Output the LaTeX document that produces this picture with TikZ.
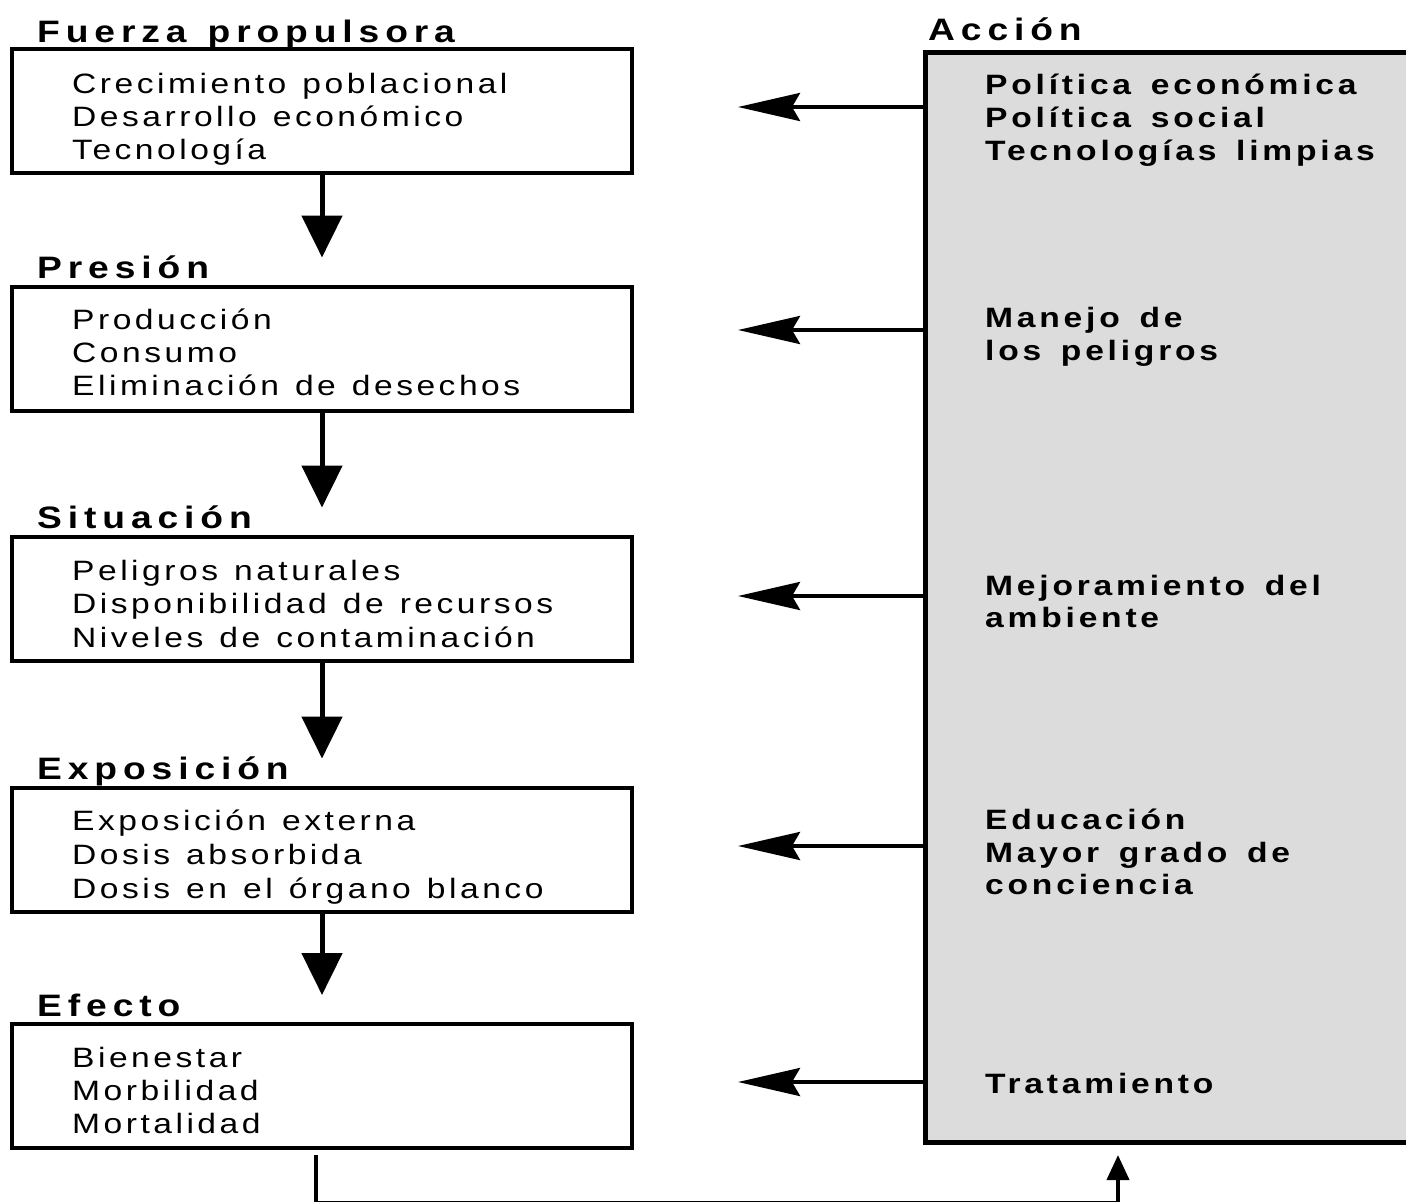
\documentclass[tikz,border=0pt]{standalone}
\usepackage{fontspec}
\setmainfont{Liberation Sans}
\newfontfamily\bodyf[LetterSpace=12.5,FakeStretch=1.2,WordSpace=1.25]{Liberation Sans}
\newfontfamily\actf[LetterSpace=13.5,FakeStretch=1.2,WordSpace=1.5]{Liberation Sans Bold}
\newfontfamily\titf[LetterSpace=19,FakeStretch=1.2,WordSpace=1.3]{Liberation Sans Bold}
\usetikzlibrary{arrows.meta}
\definecolor{actgray}{HTML}{DCDCDC}
\tikzset{
  stagebox/.style={draw=black, line width=4pt, fill=white, minimum width=620pt, minimum height=124pt, inner sep=0pt},
  actbox/.style={draw=black, line width=5pt, fill=actgray, minimum width=500pt, minimum height=1090pt, inner sep=0pt},
  bodytxt/.style={anchor=base west, inner sep=0pt, font=\bodyf\fontsize{28}{33}\selectfont},
  acttxt/.style={anchor=base west, inner sep=0pt, font=\actf\fontsize{28}{33}\selectfont},
  tittxt/.style={anchor=base west, inner sep=0pt, font=\titf\fontsize{31}{36}\selectfont},
  darr/.style={line width=5pt, -{Triangle[width=40pt,length=42pt]}},
  larr/.style={line width=4pt, -{Stealth[width=28pt,length=62pt,inset=8pt]}},
  fbline/.style={line width=4pt, -{Triangle[width=22pt,length=25pt]}}
}
\begin{document}
\begin{tikzpicture}[x=1pt,y=-1pt]
\useasboundingbox[fill=white] (0,0) rectangle (1406,1202);

% left stage boxes
\node[stagebox] (b1) at (322,111) {};
\node[stagebox] (b2) at (322,348.5) {};
\node[stagebox] (b3) at (322,598.5) {};
\node[stagebox] (b4) at (322,849.5) {};
\node[stagebox] (b5) at (322,1086) {};

% titles
\node[tittxt] (t1) at (37,42) {Fuerza propulsora};
\node[tittxt] (t2) at (37,278) {Presión};
\node[tittxt] (t3) at (37,528) {Situación};
\node[tittxt] (t4) at (37,779) {Exposición};
\node[tittxt] (t5) at (37,1016) {Efecto};
\node[tittxt] (t6) at (928,40) {Acción};

% left texts
\node[bodytxt] (l11) at (72,93) {Crecimiento poblacional};
\node[bodytxt] (l12) at (72,126) {Desarrollo económico};
\node[bodytxt] (l13) at (72,159) {Tecnología};
\node[bodytxt] (l21) at (72,329) {Producción};
\node[bodytxt] (l22) at (72,362) {Consumo};
\node[bodytxt] (l23) at (72,395) {Eliminación de desechos};
\node[bodytxt] (l31) at (72,580) {Peligros naturales};
\node[bodytxt] (l32) at (72,613) {Disponibilidad de recursos};
\node[bodytxt] (l33) at (72,647) {Niveles de contaminación};
\node[bodytxt] (l41) at (72,830) {Exposición externa};
\node[bodytxt] (l42) at (72,864) {Dosis absorbida};
\node[bodytxt] (l43) at (72,898) {Dosis en el órgano blanco};
\node[bodytxt] (l51) at (72,1067) {Bienestar};
\node[bodytxt] (l52) at (72,1100) {Morbilidad};
\node[bodytxt] (l53) at (72,1133) {Mortalidad};

% down arrows
\draw[darr] (b1.south) -- ([yshift=27pt]b2.north);
\draw[darr] (b2.south) -- ([yshift=27pt]b3.north);
\draw[darr] (b3.south) -- ([yshift=27pt]b4.north);
\draw[darr] (b4.south) -- ([yshift=27pt]b5.north);

% action box
\node[actbox] (act) at (1175,597) {};
\node[acttxt] (r11) at (985,94) {Política económica};
\node[acttxt] (r12) at (985,127) {Política social};
\node[acttxt] (r13) at (985,160) {Tecnologías limpias};
\node[acttxt] (r21) at (985,327) {Manejo de};
\node[acttxt] (r22) at (985,360) {los peligros};
\node[acttxt] (r31) at (985,595) {Mejoramiento del};
\node[acttxt] (r32) at (985,627) {ambiente};
\node[acttxt] (r41) at (985,829) {Educación};
\node[acttxt] (r42) at (985,862) {Mayor grado de};
\node[acttxt] (r43) at (985,894) {conciencia};
\node[acttxt] (r51) at (985,1093) {Tratamiento};

% left-pointing arrows
\coordinate (e1) at (738,107);
\coordinate (e2) at (738,330);
\coordinate (e3) at (738,596);
\coordinate (e4) at (738,846);
\coordinate (e5) at (738,1082);
\draw[larr] (act.west |- e1) -- (e1);
\draw[larr] (act.west |- e2) -- (e2);
\draw[larr] (act.west |- e3) -- (e3);
\draw[larr] (act.west |- e4) -- (e4);
\draw[larr] (act.west |- e5) -- (e5);

% feedback
\coordinate (f0) at (316,1155);
\coordinate (f2) at (1118,1203);
\coordinate (f3) at (1118,1155);
\draw[fbline] (f0) |- (f2) -- (f3);
\end{tikzpicture}
\end{document}
